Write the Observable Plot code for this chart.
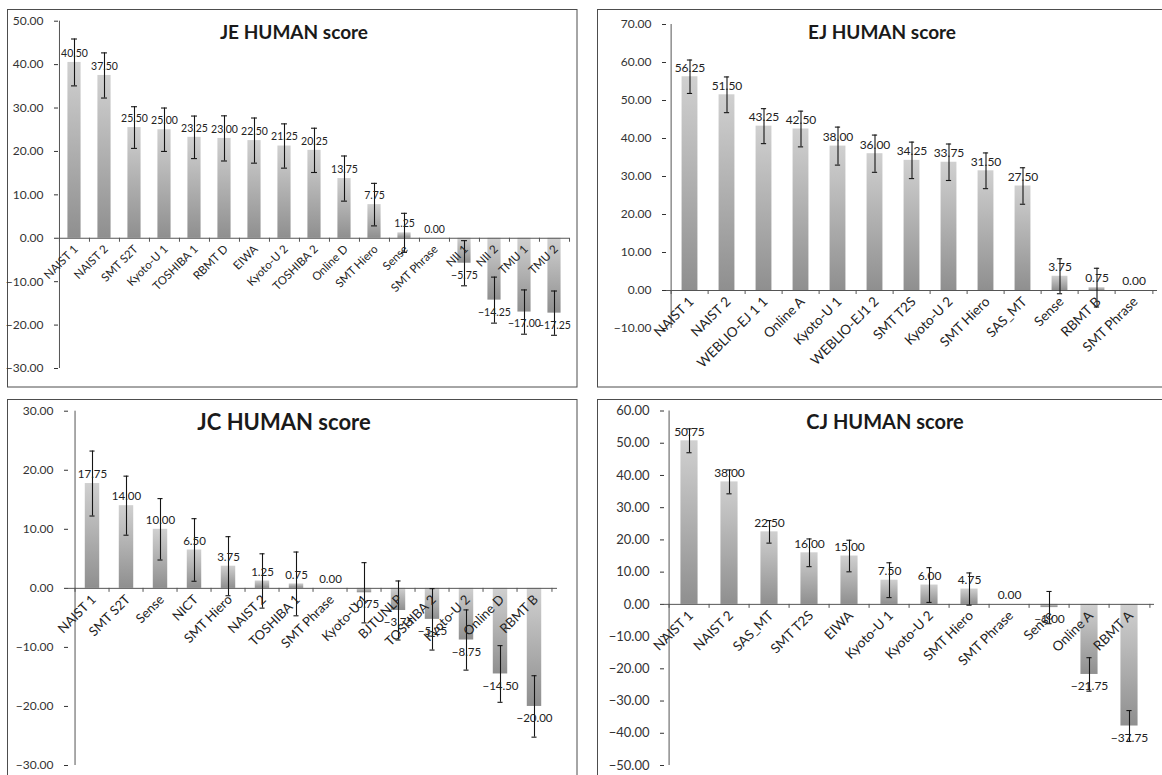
<!DOCTYPE html>
<html>
<head>
<meta charset="utf-8">
<script src="https://cdn.jsdelivr.net/npm/d3@7"></script>
<script src="https://cdn.jsdelivr.net/npm/@observablehq/plot@0.6"></script>
<style>
  html, body { margin: 0; padding: 0; background: #fff; }
  #page { position: relative; width: 1162px; height: 775px; overflow: hidden; background: #fff; }
  #page svg.chart { position: absolute; overflow: visible; }
  #overlay { position: absolute; left: 0; top: 0; }
</style>
</head>
<body>
<svg width="0" height="0" style="position:absolute">
  <defs>
    <linearGradient id="barGrad" x1="0" y1="0" x2="0" y2="1">
      <stop offset="0" stop-color="#d0d0d0"/>
      <stop offset="1" stop-color="#8f8f8f"/>
    </linearGradient>
  </defs>
</svg>
<div id="page"></div>
<script>
// ---------------- DATA ----------------
const jeTitle = "JE HUMAN score";
const jeCategories = ["NAIST 1","NAIST 2","SMT S2T","Kyoto-U 1","TOSHIBA 1","RBMT D","EIWA","Kyoto-U 2","TOSHIBA 2","Online D","SMT Hiero","Sense","SMT Phrase","NII 1","NII 2","TMU 1","TMU 2"];
const jeValues = [40.50,37.50,25.50,25.00,23.25,23.00,22.50,21.25,20.25,13.75,7.75,1.25,0.00,-5.75,-14.25,-17.00,-17.25];
const jeErrors = [5.4,5.2,4.8,5.0,4.9,5.2,5.2,5.1,5.1,5.2,4.9,4.5,0,5.2,5.3,5.1,5.1];
const jeTicks = [-30,-20,-10,0,10,20,30,40,50];

const ejTitle = "EJ HUMAN score";
const ejCategories = ["NAIST 1","NAIST 2","WEBLIO-EJ 1 1","Online A","Kyoto-U 1","WEBLIO-EJ1 2","SMT T2S","Kyoto-U 2","SMT Hiero","SAS_MT","Sense","RBMT B","SMT Phrase"];
const ejValues = [56.25,51.50,43.25,42.50,38.00,36.00,34.25,33.75,31.50,27.50,3.75,0.75,0.00];
const ejErrors = [4.4,4.7,4.6,4.7,5.0,4.9,4.8,4.8,4.7,4.8,4.6,5.1,0];
const ejTicks = [-10,0,10,20,30,40,50,60,70];

const jcTitle = "JC HUMAN score";
const jcCategories = ["NAIST 1","SMT S2T","Sense","NICT","SMT Hiero","NAIST 2","TOSHIBA 1","SMT Phrase","Kyoto-U 1","BJTUNLP","TOSHIBA 2","Kyoto-U 2","Online D","RBMT B"];
const jcValues = [17.75,14.00,10.00,6.50,3.75,1.25,0.75,0.00,-0.75,-3.75,-5.25,-8.75,-14.50,-20.00];
const jcErrors = [5.5,5.0,5.2,5.3,5.0,4.6,5.4,0,5.1,5.0,5.2,5.1,4.8,5.2];
const jcTicks = [-30,-20,-10,0,10,20,30];

const cjTitle = "CJ HUMAN score";
const cjCategories = ["NAIST 1","NAIST 2","SAS_MT","SMT T2S","EIWA","Kyoto-U 1","Kyoto-U 2","SMT Hiero","SMT Phrase","Sense","Online A","RBMT A"];
const cjValues = [50.75,38.00,22.50,16.00,15.00,7.50,6.00,4.75,0.00,-1.00,-21.75,-37.75];
const cjErrors = [3.7,3.7,3.5,4.3,4.9,5.4,5.4,5.0,0,5.0,5.2,4.8];
const cjTicks = [-50,-40,-30,-20,-10,0,10,20,30,40,50,60];

// ---------------- LAYOUT ----------------
const panels = [
  {title: jeTitle, cats: jeCategories, vals: jeValues, errs: jeErrors, ticks: jeTicks,
   frame: [7.5, 9.5, 569.5, 377.5],
   left: 7, top: 9, width: 570, height: 378, mt: 11.7, mb: 19, ml: 51, mr: 8,
   tx: 294, ty: 39, ts: 19, fTick: 12, fVal: 10.5, fCat: 11.5},
  {title: ejTitle, cats: ejCategories, vals: ejValues, errs: ejErrors, ticks: ejTicks,
   frame: [597.5, 9.5, 580, 377.5],
   left: 597, top: 9, width: 568, height: 378, mt: 15, mb: 59, ml: 69, mr: 8,
   tx: 882, ty: 39, ts: 19, fTick: 12, fVal: 12, fCat: 13.5},
  {title: jcTitle, cats: jcCategories, vals: jcValues, errs: jcErrors, ticks: jcTicks,
   frame: [7.5, 399.5, 569.5, 400],
   left: 7, top: 399, width: 570, height: 380, mt: 11.7, mb: 14, ml: 61, mr: 20,
   tx: 284, ty: 430, ts: 22, fTick: 12, fVal: 11.5, fCat: 13},
  {title: cjTitle, cats: cjCategories, vals: cjValues, errs: cjErrors, ticks: cjTicks,
   frame: [597.5, 399.5, 580, 400],
   left: 597, top: 399, width: 568, height: 380, mt: 11.5, mb: 14, ml: 67, mr: 11,
   tx: 885, ty: 429, ts: 20, fTick: 13, fVal: 12, fCat: 13.5}
];

const FONT = "Lato, 'Open Sans', sans-serif";
const fmt = d3.format(".2f");
const page = document.getElementById("page");

// overlay for frames
const overlay = d3.select(page).append("svg")
  .attr("id", "overlay").attr("width", 1162).attr("height", 775);

for (const p of panels) {
  overlay.append("rect")
    .attr("x", p.frame[0]).attr("y", p.frame[1])
    .attr("width", p.frame[2]).attr("height", p.frame[3])
    .attr("fill", "none").attr("stroke", "#4d4d4d").attr("stroke-width", 1);
}

for (const p of panels) {
  const data = p.cats.map((c, i) => ({cat: c, value: p.vals[i], err: p.errs[i]}));
  const errData = data.filter(d => d.err > 0);
  const n = p.cats.length;
  const step = (p.width - p.ml - p.mr) / n;
  const inset = step * 0.28;
  const capInset = step / 2 - 3;
  const ymin = p.ticks[0], ymax = p.ticks[p.ticks.length - 1];

  const svg = Plot.plot({
    width: p.width, height: p.height,
    marginTop: p.mt, marginBottom: p.mb, marginLeft: p.ml, marginRight: p.mr,
    style: {fontFamily: FONT, fontSize: p.fTick + "px", color: "#333", background: "transparent", overflow: "visible"},
    x: {domain: p.cats, padding: 0, axis: null},
    y: {domain: [ymin, ymax], ticks: p.ticks, tickFormat: fmt, tickSize: 4, tickPadding: 11, label: null},
    marks: [
      Plot.barY(data, {x: "cat", y: "value", fill: "url(#barGrad)", insetLeft: inset, insetRight: inset}),
      // axis lines
      Plot.ruleY([0], {stroke: "#555", strokeWidth: 1}),
      Plot.ruleX([p.cats[0]], {y1: ymin, y2: ymax, dx: -step / 2, stroke: "#555", strokeWidth: 1}),
      // category boundary ticks
      Plot.ruleX(p.cats, {x: d => d, y1: 0, y2: 0, dx: -step / 2, insetBottom: -4, stroke: "#555"}),
      Plot.ruleX([p.cats[n - 1]], {x: d => d, y1: 0, y2: 0, dx: step / 2, insetBottom: -4, stroke: "#555"}),
      // error bars
      Plot.ruleX(errData, {x: "cat", y1: d => d.value - d.err, y2: d => d.value + d.err, stroke: "#151515", strokeWidth: 1.1}),
      Plot.tickY(errData, {x: "cat", y: d => d.value + d.err, insetLeft: capInset, insetRight: capInset, stroke: "#151515", strokeWidth: 1.1}),
      Plot.tickY(errData, {x: "cat", y: d => d.value - d.err, insetLeft: capInset, insetRight: capInset, stroke: "#151515", strokeWidth: 1.1}),
      // value labels
      Plot.text(data.filter(d => d.value >= 0), {x: "cat", y: "value", text: d => fmt(d.value), dy: -9, fill: "#222", fontSize: p.fVal}),
      Plot.text(data.filter(d => d.value < 0), {x: "cat", y: "value", text: d => fmt(d.value), dy: 12, fill: "#222", fontSize: p.fVal}),
      // category labels
      Plot.text(p.cats, {x: d => d, y: () => 0, text: d => d, rotate: -45, textAnchor: "end", dx: 1.5, dy: 9, fill: "#222", fontSize: p.fCat})
    ]
  });
  svg.classList.add("chart");
  svg.style.left = p.left + "px";
  svg.style.top = p.top + "px";
  page.appendChild(svg);
}

// titles on top
const tsvg = d3.select(page).append("svg")
  .attr("width", 1162).attr("height", 775)
  .style("position", "absolute").style("left", "0px").style("top", "0px").style("pointer-events", "none");
for (const p of panels) {
  tsvg.append("text")
    .attr("x", p.tx).attr("y", p.ty)
    .attr("text-anchor", "middle")
    .attr("font-family", FONT).attr("font-weight", "bold")
    .attr("font-size", p.ts).attr("fill", "#1a1a1a")
    .text(p.title);
}
</script>
</body>
</html>
